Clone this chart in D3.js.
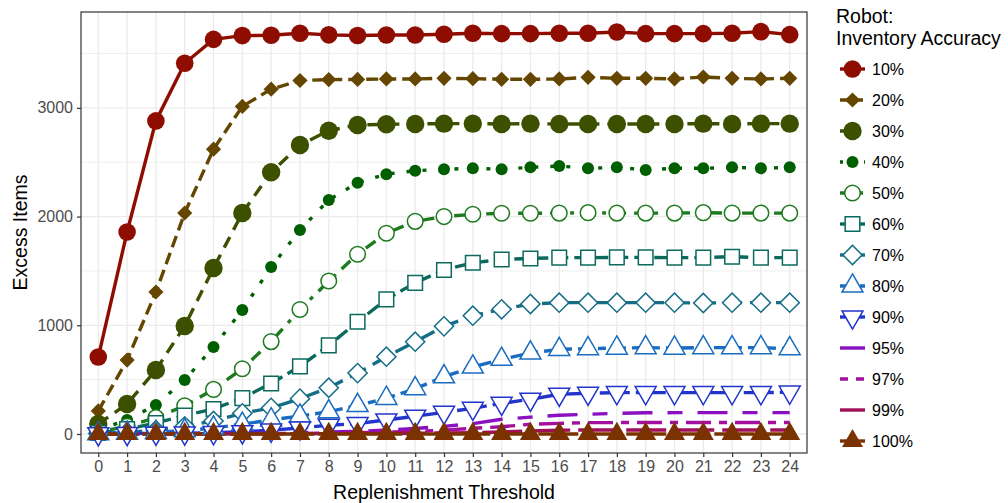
<!DOCTYPE html>
<html>
<head>
<meta charset="utf-8">
<script src="https://cdn.jsdelivr.net/npm/d3@7"></script>
<style>
  body { margin: 0; background: #fff; }
  text { font-family: "Liberation Sans", Arial, sans-serif; }
</style>
</head>
<body>
<svg width="1008" height="503"></svg>
<script>

// replenishment thresholds (x categories)
const thresholds = [0, 1, 2, 3, 4, 5, 6, 7, 8, 9, 10, 11, 12, 13, 14, 15, 16, 17, 18, 19, 20, 21, 22, 23, 24];

// robot inventory accuracy levels (legend)
const levels = ["10%", "20%", "30%", "40%", "50%", "60%", "70%", "80%", "90%", "95%", "97%", "99%", "100%"];

// excess items, one array per accuracy level
const acc10 = [708, 1858, 2880, 3410, 3630, 3665, 3668, 3686, 3672, 3666, 3670, 3670, 3677, 3686, 3683, 3683, 3686, 3686, 3698, 3683, 3683, 3683, 3686, 3701, 3674];
const acc20 = [212, 680, 1306, 2033, 2620, 3013, 3172, 3252, 3260, 3262, 3266, 3266, 3272, 3269, 3263, 3263, 3266, 3281, 3272, 3272, 3266, 3284, 3272, 3266, 3272];
const acc30 = [92, 276, 589, 994, 1527, 2033, 2408, 2659, 2790, 2843, 2849, 2852, 2855, 2855, 2852, 2855, 2852, 2852, 2852, 2852, 2852, 2855, 2852, 2855, 2855];
const acc40 = [37, 129, 267, 497, 800, 1141, 1536, 1877, 2153, 2312, 2390, 2422, 2435, 2444, 2435, 2453, 2465, 2444, 2453, 2429, 2444, 2444, 2453, 2444, 2453];
const acc50 = [18, 70, 150, 260, 410, 600, 850, 1145, 1407, 1654, 1847, 1956, 2000, 2021, 2030, 2030, 2032, 2036, 2032, 2032, 2032, 2036, 2032, 2032, 2032];
const acc60 = [9, 45, 100, 170, 230, 330, 465, 622, 815, 1032, 1238, 1390, 1509, 1575, 1605, 1615, 1622, 1622, 1625, 1625, 1622, 1622, 1631, 1622, 1622];
const acc70 = [5, 15, 35, 70, 120, 190, 240, 325, 425, 560, 711, 849, 990, 1088, 1147, 1196, 1208, 1208, 1208, 1208, 1208, 1205, 1208, 1208, 1208];
const acc80 = [3, 8, 15, 30, 55, 90, 130, 165, 205, 262, 328, 417, 527, 616, 687, 745, 778, 785, 790, 794, 790, 794, 794, 794, 785];
const acc90 = [2, 4, 6, 8, 12, 20, 35, 55, 80, 95, 129, 163, 199, 236, 282, 319, 365, 374, 380, 380, 380, 380, 380, 380, 385];
const acc95 = [0, 0, 0, 2, 4, 6, 8, 12, 18, 25, 35, 50, 70, 95, 135, 155, 172, 181, 190, 195, 196, 196, 196, 196, 196];
const acc97 = [0, 0, 0, 1, 2, 3, 4, 6, 9, 12, 17, 24, 35, 52, 67, 89, 98, 104, 105, 106, 106, 106, 106, 106, 106];
const acc99 = [0, 0, 0, 0, 0, 1, 1, 2, 3, 4, 5, 7, 9, 12, 18, 28, 34, 37, 37, 37, 37, 37, 37, 37, 37];
const acc100 = [0, 0, 0, 0, 0, 0, 0, 0, 0, 0, 0, 0, 0, 0, 0, 0, 0, 0, 0, 0, 0, 0, 0, 0, 0];

const yTicks = [0, 1000, 2000, 3000];
const yMinor = [500, 1500, 2500, 3500];

const valuesByLevel = [acc10, acc20, acc30, acc40, acc50, acc60, acc70, acc80, acc90, acc95, acc97, acc99, acc100];

// look of each level: colour, dash, marker
const styles = [
    {color: "#8E0C00", dash: null,          shape: "circle",   size: 8.8, fill: true},
    {color: "#654600", dash: "12,6",        shape: "diamond",  size: 7.6, fill: true},
    {color: "#3C5000", dash: "12,8",        shape: "circle",   size: 9.2, fill: true},
    {color: "#005F00", dash: "4,12",        shape: "circle",   size: 6,   fill: true},
    {color: "#1E7A1E", dash: "4,8,12,8",    shape: "circle",   size: 7.8, fill: false},
    {color: "#0B6A5C", dash: "14,6",        shape: "square",   size: 7.3, fill: false},
    {color: "#156E86", dash: "18,8",        shape: "diamond",  size: 9.6, fill: false},
    {color: "#1A6CC0", dash: "8,6,14,6",    shape: "triangle", size: 21,  fill: false},
    {color: "#2234CC", dash: "30,6",        shape: "triDown",  size: 21,  fill: false},
    {color: "#8A10C0", dash: "30,15,15,15", shape: null},
    {color: "#A3109E", dash: "25,8,8,8",    shape: null},
    {color: "#A01058", dash: "40,8",        shape: null},
    {color: "#7A3300", dash: "40,4",        shape: "triangle", size: 21,  fill: true}
];

// dash used for the short legend keys
const keyDash = [null, "9,5", "6,8", "3,9", "5,13", null, null, "6,14", null, null, "8,8", null, null];

const series = levels.map((lv, i) => ({label: lv, values: valuesByLevel[i], style: styles[i], keyDash: keyDash[i]}));

// panel geometry
const panel = {left: 81, top: 12, right: 807, bottom: 453};

const svg = d3.select("svg");

const x = d3.scaleLinear()
    .domain([-0.6, 24.6])
    .range([panel.left, panel.right]);

const y = d3.scaleLinear()
    .domain([-175, 3882])
    .range([panel.bottom, panel.top]);

// grid
const grid = svg.append("g")
    .attr("stroke", "#EBEBEB")
    .attr("fill", "none");

grid.selectAll("line.minor")
    .data(yMinor)
    .join("line")
    .attr("class", "minor")
    .attr("x1", panel.left).attr("x2", panel.right)
    .attr("y1", d => y(d)).attr("y2", d => y(d))
    .attr("stroke-width", 0.8);

grid.selectAll("line.hmajor")
    .data(yTicks)
    .join("line")
    .attr("class", "hmajor")
    .attr("x1", panel.left).attr("x2", panel.right)
    .attr("y1", d => y(d)).attr("y2", d => y(d))
    .attr("stroke-width", 1.3);

grid.selectAll("line.vmajor")
    .data(thresholds)
    .join("line")
    .attr("class", "vmajor")
    .attr("y1", panel.top).attr("y2", panel.bottom)
    .attr("x1", d => x(d)).attr("x2", d => x(d))
    .attr("stroke-width", 1.3);

// lines
const line = d3.line()
    .x((d, i) => x(thresholds[i]))
    .y(d => y(d));

svg.append("g")
    .attr("fill", "none")
    .attr("stroke-width", 3.4)
    .selectAll("path")
    .data(series)
    .join("path")
    .attr("stroke", d => d.style.color)
    .attr("stroke-dasharray", d => d.style.dash)
    .attr("d", d => line(d.values));

// markers
function markerPath(st) {
    if (st.shape === "circle") return d3.symbol(d3.symbolCircle, Math.PI * st.size * st.size)();
    if (st.shape === "diamond") return d3.symbol(d3.symbolSquare, 2 * st.size * st.size)();
    if (st.shape === "square") return d3.symbol(d3.symbolSquare, 4 * st.size * st.size)();
    return d3.symbol(d3.symbolTriangle, Math.sqrt(3) / 4 * st.size * st.size)();
}

function markerRotate(st) {
    if (st.shape === "diamond") return 45;
    if (st.shape === "triDown") return 180;
    return 0;
}

function drawMarker(sel, st) {
    sel.append("path")
        .attr("d", markerPath(st))
        .attr("fill", st.fill ? st.color : "white")
        .attr("stroke", st.fill ? "none" : st.color)
        .attr("stroke-width", 1.5);
}

const pointSeries = series.filter(s => s.style.shape);

svg.append("g")
    .selectAll("g")
    .data(pointSeries)
    .join("g")
    .each(function(s) {
        d3.select(this).selectAll("g")
            .data(s.values)
            .join("g")
            .attr("transform", (d, i) => `translate(${x(thresholds[i])},${y(d)}) rotate(${markerRotate(s.style)})`)
            .each(function() { drawMarker(d3.select(this), s.style); });
    });

// panel border
svg.append("rect")
    .attr("x", panel.left)
    .attr("y", panel.top)
    .attr("width", panel.right - panel.left)
    .attr("height", panel.bottom - panel.top)
    .attr("fill", "none")
    .attr("stroke", "#333333")
    .attr("stroke-width", 1.2);

// axes
const yAxis = svg.append("g")
    .attr("transform", `translate(${panel.left},0)`)
    .call(d3.axisLeft(y).tickValues(yTicks).tickSize(4).tickPadding(4).tickFormat(d3.format("d")));

const xAxis = svg.append("g")
    .attr("transform", `translate(0,${panel.bottom})`)
    .call(d3.axisBottom(x).tickValues(thresholds).tickSize(4).tickPadding(4).tickFormat(d3.format("d")));

[yAxis, xAxis].forEach(ax => {
    ax.select(".domain").remove();
    ax.selectAll(".tick line").attr("stroke", "#333333").attr("stroke-width", 1.2);
    ax.selectAll(".tick text")
        .attr("fill", "#4D4D4D")
        .style("font-size", "16px")
        .style("font-family", "Liberation Sans, Arial, sans-serif");
});

// axis titles
svg.append("text")
    .attr("transform", `translate(27,${(panel.top + panel.bottom) / 2}) rotate(-90)`)
    .attr("text-anchor", "middle")
    .style("font-size", "19.5px")
    .text("Excess Items");

svg.append("text")
    .attr("x", (panel.left + panel.right) / 2)
    .attr("y", 499)
    .attr("text-anchor", "middle")
    .style("font-size", "19.5px")
    .text("Replenishment Threshold");

// legend
const legend = svg.append("g").attr("transform", "translate(836,0)");

legend.append("text").attr("x", 0).attr("y", 23).style("font-size", "19.5px").text("Robot:");
legend.append("text").attr("x", 0).attr("y", 45).style("font-size", "19.5px").text("Inventory Accuracy");

const item = legend.selectAll("g.item")
    .data(series)
    .join("g")
    .attr("class", "item")
    .attr("transform", (d, i) => `translate(0,${69 + i * 31})`);

item.append("line")
    .attr("x1", 4).attr("x2", 29)
    .attr("y1", 0).attr("y2", 0)
    .attr("stroke", d => d.style.color)
    .attr("stroke-width", 3.4)
    .attr("stroke-dasharray", d => d.keyDash);

item.filter(d => d.style.shape)
    .append("g")
    .attr("transform", d => `translate(16.5,0) rotate(${markerRotate(d.style)})`)
    .each(function(d) { drawMarker(d3.select(this), d.style); });

item.append("text")
    .attr("x", 36)
    .attr("y", 6)
    .style("font-size", "16px")
    .text(d => d.label);

</script>
</body>
</html>
